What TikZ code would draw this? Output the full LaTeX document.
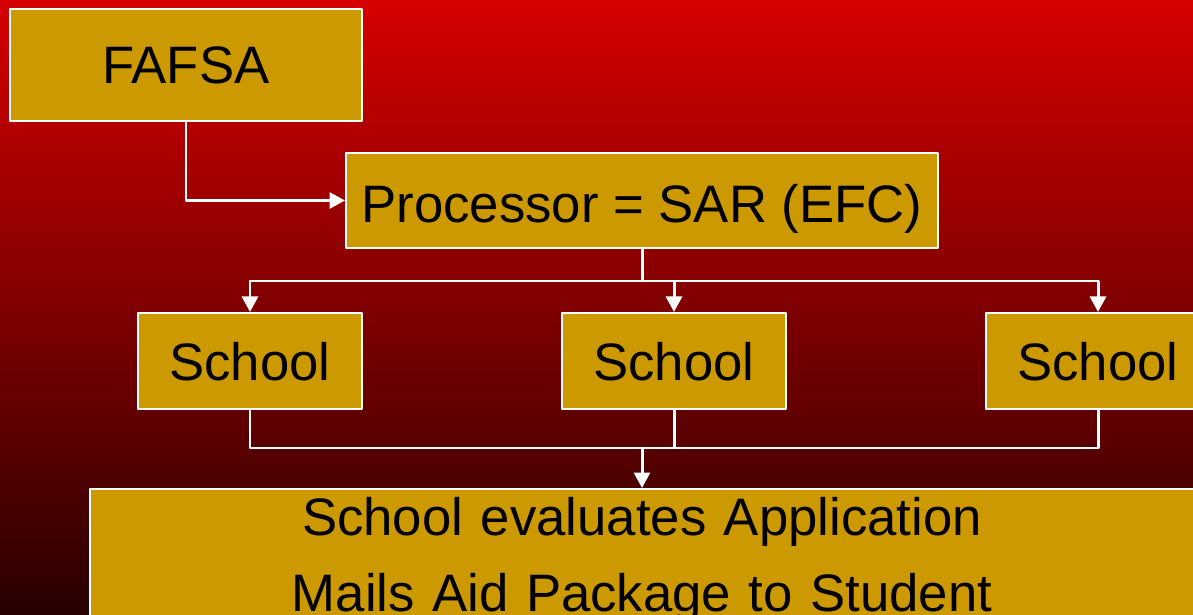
\documentclass[tikz,border=0pt]{standalone}
\usepackage{fontspec}
\setmainfont{Liberation Sans}
\usetikzlibrary{arrows.meta}
\definecolor{gold}{RGB}{204,153,0}
\definecolor{redtop}{RGB}{214,0,0}
\definecolor{redbottom}{RGB}{40,0,0}
\begin{document}
\begin{tikzpicture}[line join=round,x=.02cm,y=-.02cm,
    box/.style={draw=white,line width=1.2pt,fill=gold,inner sep=0pt,text depth=0pt,
      font=\fontsize{30}{43}\selectfont},
    link/.style={draw=white,line width=1.7pt},
    tolink/.style={link,-{Triangle[width=.32cm,length=.31cm]}}]
  \useasboundingbox (0,0) rectangle (1193,615);
  \clip (0,0) rectangle (1193,615);
  \shade[top color=redtop,bottom color=redbottom] (0,0) rectangle (1193,615);

  \node[box,minimum width=7.04cm,minimum height=2.24cm] (fafsa) at (186,65) {FAFSA};
  \node[box,minimum width=11.84cm,minimum height=1.9cm] (proc) at (642,200.5) {\raisebox{-3pt}{Processor = SAR (EFC)}};
  \node[box,minimum width=4.48cm,minimum height=1.92cm] (schoolA) at (250,361) {School};
  \node[box,minimum width=4.48cm,minimum height=1.92cm] (schoolB) at (674,361) {School};
  \node[box,minimum width=4.48cm,minimum height=1.92cm] (schoolC) at (1098,361) {School};
  \node[box,anchor=north,text depth=,inner ysep=.17cm,text width=22.08cm,align=center] (evaluate) at (642,488)
    {School evaluates Application\\Mails Aid Package to Student\\[-10pt]};

  \coordinate (split) at (642,281);
  \coordinate (merge) at (642,448);

  \draw[tolink] (fafsa.south) |- (proc.west);
  \draw[link] (proc.south) -- (split);
  \draw[tolink] (split) -| (schoolA.north);
  \draw[tolink] (split) -| (schoolB.north);
  \draw[tolink] (split) -| (schoolC.north);
  \draw[link] (schoolA.south) |- (merge);
  \draw[link] (schoolB.south) |- (merge);
  \draw[link] (schoolC.south) |- (merge);
  \draw[tolink] (merge) -- (evaluate.north);
\end{tikzpicture}
\end{document}
